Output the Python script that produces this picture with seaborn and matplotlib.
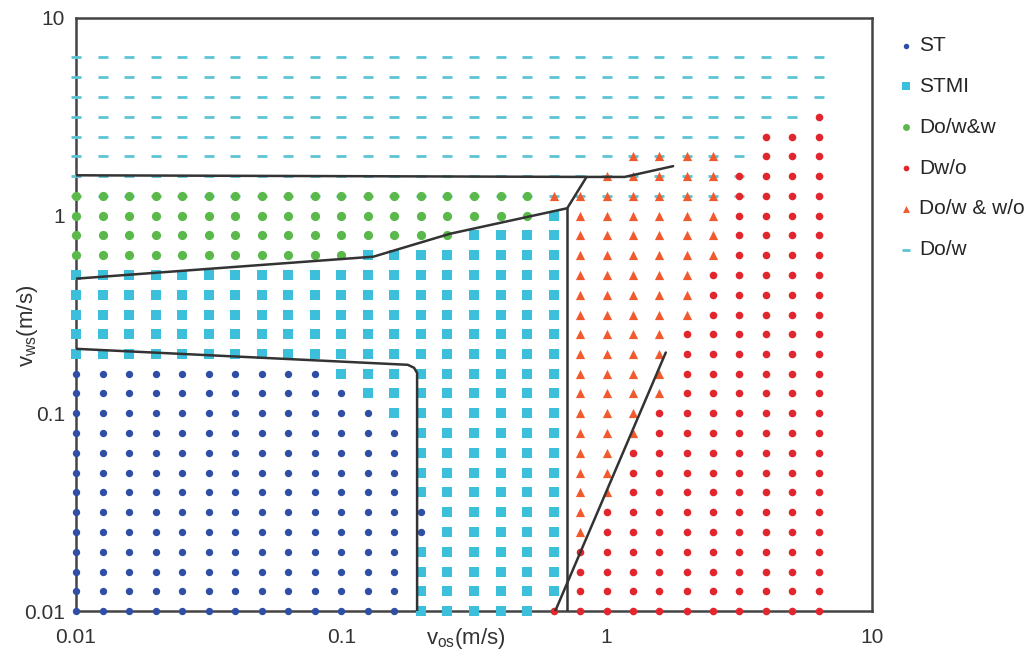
import numpy as np
import pandas as pd
import matplotlib
matplotlib.use("Agg")
import matplotlib.pyplot as plt
import seaborn as sns

V = [0.01, 0.0126, 0.0158, 0.02, 0.0251, 0.0316, 0.0398, 0.0501, 0.0631, 0.0794,
     0.1, 0.126, 0.158, 0.2, 0.251, 0.316, 0.398, 0.501, 0.631, 0.794,
     1.0, 1.26, 1.58, 2.0, 2.51, 3.16, 3.98, 5.01, 6.31]

# Observed regimes as blocks of grid points: (vos_from, vos_to, vws_from, vws_to)
ST = [(0.01, 0.0794, 0.01, 0.158), (0.1, 0.1, 0.01, 0.126), (0.126, 0.126, 0.01, 0.1),
      (0.158, 0.158, 0.01, 0.0794), (0.2, 0.2, 0.0251, 0.0316)]
STMI = [(0.01, 0.0794, 0.2, 0.501), (0.1, 0.1, 0.158, 0.501), (0.126, 0.126, 0.126, 0.631),
        (0.158, 0.158, 0.1, 0.631), (0.2, 0.2, 0.01, 0.02), (0.2, 0.2, 0.0398, 0.631),
        (0.251, 0.251, 0.01, 0.631), (0.316, 0.501, 0.01, 0.794), (0.631, 0.631, 0.0126, 1.0)]
DOWW = [(0.01, 0.1, 0.631, 1.26), (0.126, 0.251, 0.794, 1.26), (0.316, 0.501, 1.0, 1.26)]
DWO = [(0.631, 0.631, 0.01, 0.01), (0.794, 0.794, 0.01, 0.02), (1.0, 1.0, 0.01, 0.0316),
       (1.26, 1.26, 0.01, 0.0631), (1.58, 1.58, 0.01, 0.1), (2.0, 2.0, 0.01, 0.251),
       (2.51, 2.51, 0.01, 0.501), (3.16, 3.16, 0.01, 1.58), (3.98, 5.01, 0.01, 2.51),
       (6.31, 6.31, 0.01, 3.16)]
DOW_WO = [(0.631, 0.631, 1.26, 1.26), (0.794, 0.794, 0.0251, 1.26), (1.0, 1.0, 0.0398, 1.58),
          (1.26, 1.26, 0.0794, 2.0), (1.58, 1.58, 0.126, 2.0), (2.0, 2.0, 0.316, 2.0),
          (2.51, 2.51, 0.631, 2.0)]
DOW = [(0.01, 3.16, 1.26, 6.31), (3.98, 5.01, 3.16, 6.31), (6.31, 6.31, 3.98, 6.31)]

# Transition boundaries drawn on the map (m/s)
top_x = [0.01, 0.84, 1.17, 1.78]
top_y = [1.60, 1.57, 1.57, 1.78]
mid_x = [0.01, 0.132, 0.257, 0.71, 0.84]
mid_y = [0.48, 0.62, 0.81, 1.09, 1.57]
vert_x = [0.71, 0.71]
vert_y = [1.09, 0.01]
st_x = [0.01, 0.178, 0.188, 0.193, 0.193]
st_y = [0.212, 0.176, 0.170, 0.160, 0.01]
diag_x = [0.64, 1.67]
diag_y = [0.01, 0.203]

LABELS = ["ST", "STMI", "Do/w&w", "Dw/o", "Do/w & w/o", "Do/w"]
BLOCKS = [ST, STMI, DOWW, DWO, DOW_WO, DOW]


def expand(blocks, name):
    g = np.array(V)
    rows = []
    for x0, x1, y0, y1 in blocks:
        for x in g[(g >= x0 * 0.999) & (g <= x1 * 1.001)]:
            for y in g[(g >= y0 * 0.999) & (g <= y1 * 1.001)]:
                rows.append((x, y, name))
    return pd.DataFrame(rows, columns=["vos", "vws", "regime"])


df = pd.concat([expand(b, n) for b, n in zip(BLOCKS, LABELS)], ignore_index=True)

sns.set_theme(style="white")
plt.rcParams["font.family"] = ["Liberation Sans", "DejaVu Sans"]
plt.rcParams["mathtext.default"] = "regular"

fig = plt.figure(figsize=(10.32, 6.58), dpi=100)
ax = fig.add_axes([0.0736, 0.0714, 0.7714, 0.9013])

styles = {
    "ST": dict(marker="o", s=28, color="#2F4FA6", linewidth=0, zorder=3),
    "STMI": dict(marker="s", s=55, color="#3CBFDA", linewidth=0, zorder=3),
    "Do/w&w": dict(marker="o", s=44, color="#5BB84A", linewidth=0, zorder=3),
    "Dw/o": dict(marker="o", s=30, color="#E1262D", linewidth=0, zorder=3.1),
    "Do/w & w/o": dict(marker="^", s=44, color="#F25A2E", linewidth=0, zorder=3.1),
    "Do/w": dict(marker="_", s=60, color="#5CC5D5", linewidth=2.0, zorder=2.9),
}
for name in LABELS:
    sub = df[df["regime"] == name]
    sns.scatterplot(data=sub, x="vos", y="vws", ax=ax, label=name,
                    clip_on=False, **styles[name])

line_kw = dict(color="#333333", lw=1.8, zorder=4, solid_capstyle="round")
for xs, ys in [(top_x, top_y), (mid_x, mid_y), (vert_x, vert_y),
               (st_x, st_y), (diag_x, diag_y)]:
    ax.plot(xs, ys, **line_kw)

ax.set_xscale("log")
ax.set_yscale("log")
ax.set_xlim(0.01, 10)
ax.set_ylim(0.01, 10)
ticks = [0.01, 0.1, 1, 10]
tick_labels = ["0.01", "0.1", "1", "10"]
ax.set_xticks(ticks)
ax.set_xticklabels(tick_labels)
ax.set_yticks(ticks)
ax.set_yticklabels(tick_labels)
ax.minorticks_off()
ax.tick_params(axis="both", length=0, labelsize=15, colors="#333333")
ax.tick_params(axis="x", pad=12)
ax.tick_params(axis="y", pad=8)

for sp in ax.spines.values():
    sp.set_color("#444444")
    sp.set_linewidth(1.8)

ax.set_xlabel(r"v$_{os}$(m/s)", fontsize=16, color="#333333")
ax.xaxis.set_label_coords(0.49, -0.025)
ax.set_ylabel(r"v$_{ws}$(m/s)", fontsize=16, color="#333333")
ax.yaxis.set_label_coords(-0.045, 0.48)

ax.legend(loc="upper left", bbox_to_anchor=(0.862, 0.958),
          bbox_transform=fig.transFigure, frameon=False, fontsize=15,
          labelspacing=1.05, handletextpad=0.2, handlelength=0.8,
          markerscale=0.75, borderaxespad=0)

fig.savefig("out.png", dpi=100)
